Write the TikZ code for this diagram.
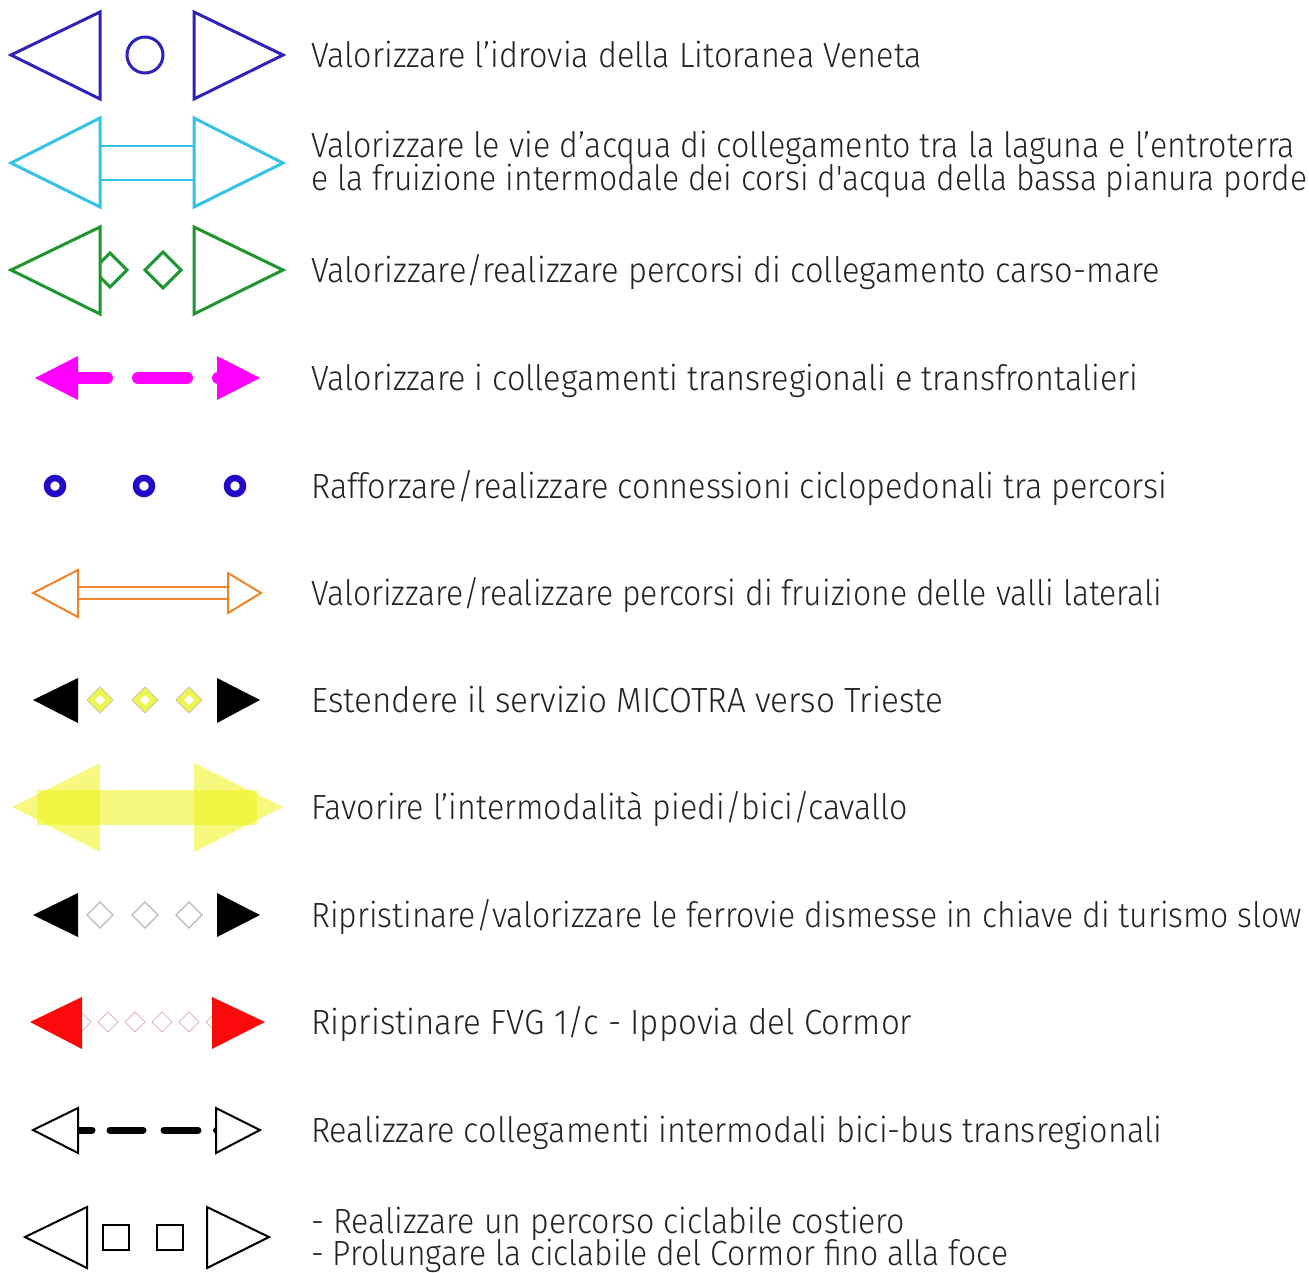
\documentclass[tikz,border=0pt]{standalone}
\usepackage{fontspec}
\newfontfamily\txtfont{Fira Sans Light}
\definecolor{txt}{RGB}{35,35,35}
\definecolor{cBlue}{RGB}{45,35,185}
\definecolor{cCyan}{RGB}{50,195,230}
\definecolor{cGreen}{RGB}{30,150,45}
\definecolor{cMag}{RGB}{255,0,255}
\definecolor{cDot}{RGB}{35,10,200}
\definecolor{cOrange}{RGB}{240,130,40}
\definecolor{cYelD}{RGB}{238,245,80}
\definecolor{cYelEdge}{RGB}{200,200,160}
\definecolor{cYel}{RGB}{240,242,20}
\definecolor{cGray}{RGB}{185,185,185}
\definecolor{cRed}{RGB}{250,10,10}
\definecolor{cPink}{RGB}{230,180,185}
\newcommand\fitw[2]{\resizebox{#1pt}{\height}{#2}}
\begin{document}
\begin{tikzpicture}[x=1pt,y=-1pt,
  lbl/.style={anchor=base west, inner sep=0pt, text=txt, font=\txtfont\fontsize{35}{33}\selectfont},
  tri/.style={line width=3pt, line join=miter, fill=white},
  thin/.style={line width=2pt, line join=miter, fill=white},
  ydia/.style={fill=cYelD, draw=cYelEdge, line width=1pt},
  gdia/.style={draw=cGray, line width=1.2pt},
  pdia/.style={draw=cPink, line width=1pt},
  dsh/.style={line cap=round}]
\useasboundingbox (0,0) rectangle (1309,1272);
% row 1
\draw[tri, draw=cBlue] (11,55) -- (100,12) -- (100,99) -- cycle;
\draw[cBlue, line width=3pt] (145,55) circle[radius=18pt];
\draw[tri, draw=cBlue] (283,55) -- (194,12) -- (194,99) -- cycle;
\node[lbl] (t1) at (311,67) {\fitw{611}{Valorizzare l’idrovia della Litoranea Veneta}};
% row 2
\draw[cCyan, line width=2.5pt] (100,146) -- (194,146) (100,180) -- (194,180);
\draw[tri, draw=cCyan] (11,163) -- (100,118) -- (100,207) -- cycle;
\draw[tri, draw=cCyan] (283,163) -- (194,118) -- (194,207) -- cycle;
\node[lbl] (t2a) at (311,157) {\fitw{984}{Valorizzare le vie d’acqua di collegamento tra la laguna e l’entroterra}};
\node[lbl] (t2b) at (311,190) {\fitw{996}{e la fruizione intermodale dei corsi d'acqua della bassa pianura porde}};
% row 3
\draw[cGreen, line width=3pt] (110,253) -- (127,270) -- (110,287) -- (93,270) -- cycle;
\draw[cGreen, line width=3pt] (163,252) -- (181,270) -- (163,288) -- (145,270) -- cycle;
\draw[tri, draw=cGreen] (11,270) -- (100,227) -- (100,314) -- cycle;
\draw[tri, draw=cGreen] (283,270) -- (194,227) -- (194,314) -- cycle;
\node[lbl] (t3) at (311,282) {\fitw{849}{Valorizzare/realizzare percorsi di collegamento carso-mare}};
% row 4
\draw[cMag, line width=12pt, dsh] (72,378) -- (107,378) (138,378) -- (187,378) (218,378) -- (225,378);
\fill[cMag] (35,378) -- (78,356) -- (78,400) -- cycle;
\fill[cMag] (260,378) -- (217,356) -- (217,400) -- cycle;
\node[lbl] (t4) at (311,390) {\fitw{827}{Valorizzare i collegamenti transregionali e transfrontalieri}};
% row 5
\foreach \cx in {55,144,235} \draw[cDot, line width=6.5pt] (\cx,486) circle[radius=8pt];
\node[lbl] (t5) at (311,498) {\fitw{856}{Rafforzare/realizzare connessioni ciclopedonali tra percorsi}};
% row 6
\draw[cOrange, line width=2pt] (78,587) -- (228,587) (78,599) -- (228,599);
\draw[thin, draw=cOrange] (33,593) -- (78,570) -- (78,617) -- cycle;
\draw[thin, draw=cOrange] (261,593) -- (228,573) -- (228,613) -- cycle;
\node[lbl] (t6) at (311,605) {\fitw{851}{Valorizzare/realizzare percorsi di fruizione delle valli laterali}};
% row 7
\fill[black] (33,700) -- (78,678) -- (78,723) -- cycle;
\fill[black] (260,700) -- (217,678) -- (217,723) -- cycle;
\foreach \cx in {100,145,189} {
  \draw[ydia] (\cx-13,700) -- (\cx,687) -- (\cx+13,700) -- (\cx,713) -- cycle;
  \fill[white] (\cx-5,700) -- (\cx,695) -- (\cx+5,700) -- (\cx,705) -- cycle;
}
\node[lbl] (t7) at (311,712) {\fitw{632}{Estendere il servizio MICOTRA verso Trieste}};
% row 8
\fill[cYel, fill opacity=0.55] (12,807) -- (100,763) -- (100,852) -- cycle;
\fill[cYel, fill opacity=0.55] (283,807) -- (194,763) -- (194,852) -- cycle;
\fill[cYel, fill opacity=0.55] (37,790) rectangle (257,825);
\node[lbl] (t8) at (311,819) {\fitw{597}{Favorire l’intermodalità piedi/bici/cavallo}};
% row 9
\fill[black] (33,915) -- (78,893) -- (78,937) -- cycle;
\fill[black] (260,915) -- (217,893) -- (217,937) -- cycle;
\foreach \cx in {100,145,189}
  \draw[gdia] (\cx-13,915) -- (\cx,902) -- (\cx+13,915) -- (\cx,928) -- cycle;
\node[lbl] (t9) at (311,927) {\fitw{991}{Ripristinare/valorizzare le ferrovie dismesse in chiave di turismo slow}};
% row 10
\foreach \cx in {81,108,135,162,189,216}
  \draw[pdia] (\cx-10,1022) -- (\cx,1012) -- (\cx+10,1022) -- (\cx,1032) -- cycle;
\fill[cRed] (30,1022) -- (82,997) -- (82,1049) -- cycle;
\fill[cRed] (265,1022) -- (212,997) -- (212,1049) -- cycle;
\node[lbl] (t10) at (311,1034) {\fitw{601}{Ripristinare FVG 1/c - Ippovia del Cormor}};
% row 11
\draw[black, line width=7pt, dsh] (75,1130) -- (92,1130) (110,1130) -- (143,1130) (164,1130) -- (198,1130) (216.5,1130) -- (225,1130);
\draw[thin, draw=black] (33,1130) -- (78,1108) -- (78,1153) -- cycle;
\draw[thin, draw=black] (260,1130) -- (216,1108) -- (216,1153) -- cycle;
\node[lbl] (t11) at (311,1142) {\fitw{851}{Realizzare collegamenti intermodali bici-bus transregionali}};
% row 12
\draw[thin, draw=black] (25,1237) -- (87,1207) -- (87,1268) -- cycle;
\draw[thin, draw=black] (269,1237) -- (207,1207) -- (207,1268) -- cycle;
\draw[black, line width=2pt] (103,1225) rectangle (129,1250) (157,1225) rectangle (183,1250);
\node[lbl] (t12a) at (311,1233) {\fitw{594}{- Realizzare un percorso ciclabile costiero}};
\node[lbl] (t12b) at (311,1265) {\fitw{697}{- Prolungare la ciclabile del Cormor fino alla foce}};
\end{tikzpicture}
\end{document}
